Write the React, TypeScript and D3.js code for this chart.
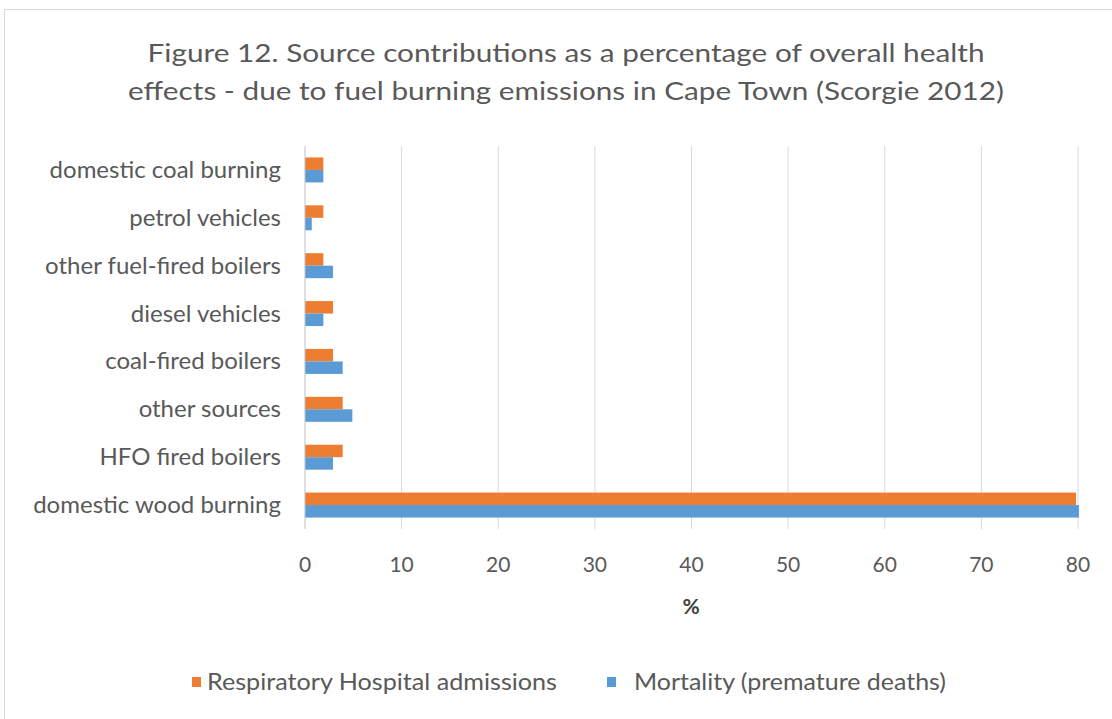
import React from "react";
import * as d3 from "d3";

const categories = [
  "domestic coal burning",
  "petrol vehicles",
  "other fuel-fired boilers",
  "diesel vehicles",
  "coal-fired boilers",
  "other sources",
  "HFO fired boilers",
  "domestic wood burning",
];
const respiratory = [1.9, 1.9, 1.9, 2.9, 2.9, 3.9, 3.9, 79.8];
const mortality = [1.9, 0.7, 2.9, 1.9, 3.9, 4.9, 2.9, 80.1];
const xTicks = [0, 10, 20, 30, 40, 50, 60, 70, 80];
const seriesNames = ["Respiratory Hospital admissions", "Mortality (premature deaths)"];
const colors = ["#ED7D31", "#5B9BD5"];

const W = 1112;
const H = 719;
const FONT = "Lato, 'Open Sans', sans-serif";
const TXT = "#595959";

export default function App() {
  const x = d3.scaleLinear().domain([0, 80]).range([305, 1078]);
  const y = d3.scaleBand().domain(categories).range([146, 529]).paddingInner(0.478).paddingOuter(0.239);
  const sub = d3.scaleBand().domain(["r", "m"]).range([0, y.bandwidth()]);
  const series = [respiratory, mortality];
  return (
    <svg width={W} height={H} style={{ position: "absolute", left: 0, top: 0 }}>
      <rect x={0} y={0} width={W} height={H} fill="#fff" />
      <rect x={4.5} y={9.5} width={W + 10} height={H + 10} fill="#fff" stroke="#d9d9d9" />
      <text x={566} y={62} textAnchor="middle" fontFamily={FONT} fontSize={25} fill={TXT} textLength={837} lengthAdjust="spacingAndGlyphs">
        Figure 12. Source contributions as a percentage of overall health
      </text>
      <text x={566} y={100} textAnchor="middle" fontFamily={FONT} fontSize={25} fill={TXT} textLength={876} lengthAdjust="spacingAndGlyphs">
        effects - due to fuel burning emissions in Cape Town (Scorgie 2012)
      </text>
      {xTicks.map((t) => (
        <g key={t}>
          {t > 0 && <line x1={x(t)} x2={x(t)} y1={146} y2={529} stroke="#d9d9d9" strokeWidth={1} />}
          <text x={x(t)} y={572} textAnchor="middle" fontFamily={FONT} fontSize={21} fill={TXT}>
            {t}
          </text>
        </g>
      ))}
      {categories.map((c, i) => (
        <g key={c}>
          {series.map((s, k) => (
            <rect
              key={k}
              x={x(0)}
              y={(y(c) as number) + (sub(k === 0 ? "r" : "m") as number)}
              width={x(s[i]) - x(0)}
              height={sub.bandwidth()}
              fill={colors[k]}
            />
          ))}
          <text x={281} y={(y(c) as number) + y.bandwidth() / 2 + 8} textAnchor="end" fontFamily={FONT} fontSize={24} fill={TXT}>
            {c}
          </text>
        </g>
      ))}
      <line x1={305} x2={305} y1={146} y2={529} stroke="#bfbfbf" strokeWidth={1} />
      <text x={691} y={614} textAnchor="middle" fontFamily={FONT} fontSize={21} fontWeight="bold" fill="#404040">
        %
      </text>
      <rect x={192} y={677} width={9} height={10} fill={colors[0]} />
      <text x={207} y={690} fontFamily={FONT} fontSize={23} fill={TXT} textLength={350} lengthAdjust="spacingAndGlyphs">
        {seriesNames[0]}
      </text>
      <rect x={607} y={677} width={9} height={10} fill={colors[1]} />
      <text x={634} y={690} fontFamily={FONT} fontSize={23} fill={TXT} textLength={312} lengthAdjust="spacingAndGlyphs">
        {seriesNames[1]}
      </text>
    </svg>
  );
}
